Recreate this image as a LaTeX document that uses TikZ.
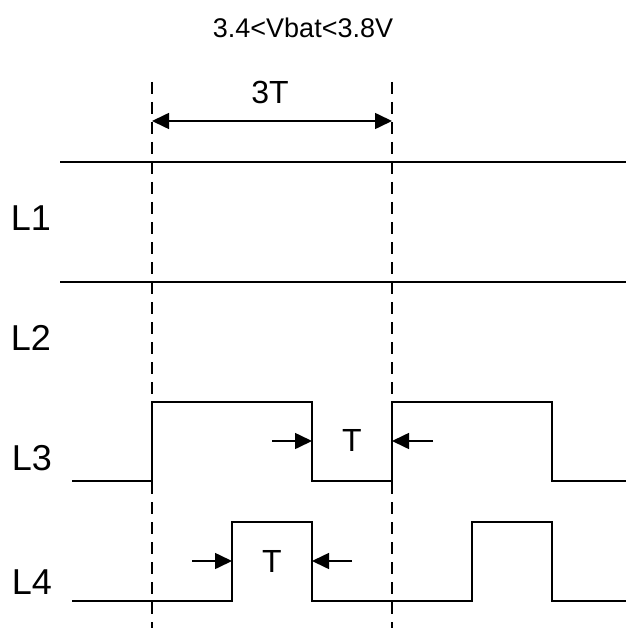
\documentclass[tikz,border=0pt]{standalone}
\usepackage{fontspec}
\setmainfont{Liberation Sans}
\usetikzlibrary{arrows.meta}

\begin{document}
\begin{tikzpicture}[x=1pt,y=-1pt,
  wave/.style={line width=1.6pt,line join=miter},
  guide/.style={line width=1.6pt,dash pattern=on 12pt off 8pt},
  dimarrow/.style={line width=1.6pt,-{Triangle[length=17pt,width=16pt]}},
  sig/.style={font=\fontsize{36}{38}\selectfont},
  tlabel/.style={font=\fontsize{32}{34}\selectfont}]

\useasboundingbox (0,0) rectangle (626,628);

\node[font=\fontsize{27}{29}\selectfont] (vbat) at (303,28) {3.4<Vbat<3.8V};

% guide lines
\draw[guide] (152,82)--(152,628);
\draw[guide] (392,82)--(392,628);

% 3T
\coordinate (start) at (152,121);
\coordinate (stop) at (392,121);
\draw[line width=1.6pt,{Triangle[length=17pt,width=16pt]}-{Triangle[length=17pt,width=16pt]}] (start)--(stop);
\node[tlabel] (period) at (270,92) {3T};

% L1, L2
\draw[wave] (60,162)--(626,162);
\draw[wave] (60,282)--(626,282);

\node[sig] (l1) at (31,218) {L1};
\node[sig] (l2) at (31,338) {L2};
\node[sig] (l3) at (32,458) {L3};
\node[sig] (l4) at (32,582) {L4};

% L3
\draw[wave] (72,481)--(152,481)--(152,402)--(312,402)--(312,481)--(392,481)
  --(392,402)--(552,402)--(552,481)--(626,481);
\coordinate (l3a) at (312,441);
\coordinate (l3b) at (392,441);
\draw[dimarrow] (272,441)--(l3a);
\draw[dimarrow] (433,441)--(l3b);
\node[tlabel] (t3) at (352,440) {T};

% L4
\draw[wave] (72,601)--(232,601)--(232,522)--(312,522)--(312,601)--(472,601)
  --(472,522)--(552,522)--(552,601)--(626,601);
\coordinate (l4a) at (232,561);
\coordinate (l4b) at (312,561);
\draw[dimarrow] (192,561)--(l4a);
\draw[dimarrow] (352,561)--(l4b);
\node[tlabel] (t4) at (272,561) {T};

\end{tikzpicture}
\end{document}
